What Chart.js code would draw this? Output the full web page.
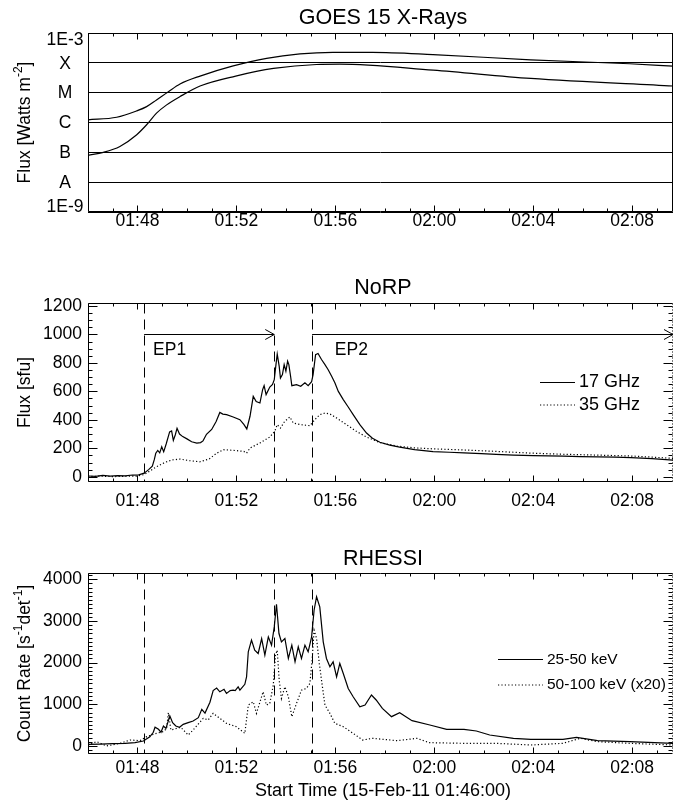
<!DOCTYPE html>
<html>
<head>
<meta charset="utf-8">
<script src="https://cdn.jsdelivr.net/npm/chart.js@4.4.1/dist/chart.umd.min.js"></script>
<style>
  html, body { margin: 0; padding: 0; background: #fff; }
  #wrap { position: relative; width: 675px; height: 806px; }
  canvas { position: absolute; left: 0; }
</style>
</head>
<body>
<div id="wrap">
  <canvas id="goes" width="675" height="260" style="top:0"></canvas>
  <canvas id="norp" width="675" height="270" style="top:260px"></canvas>
  <canvas id="rhessi" width="675" height="276" style="top:530px"></canvas>
</div>
<script>
// times are minutes after 01:46:00
const timeTicks = [2, 6, 10, 14, 18, 22];
const timeLabels = ['01:48', '01:52', '01:56', '02:00', '02:04', '02:08'];
const timeMax = 23.65;

// GOES 15
const goesTicks = [1e-9, 1e-8, 1e-7, 1e-6, 1e-5, 1e-4, 1e-3];
const goesLabels = ['1E-9', 'A', 'B', 'C', 'M', 'X', '1E-3'];
const goesLongT = [0, 1.16, 1.97, 2.37, 2.77, 3.25, 3.72, 4.53, 5.87, 7.22, 8.57, 9.9, 11.5, 13.95, 17.9, 21.9, 23.65];
const goesLong = [1.23e-6, 1.5e-6, 2.45e-6, 3.4e-6, 5.7e-6, 1.08e-5, 1.95e-5, 3.6e-5, 7.9e-5, 1.42e-4, 2.0e-4, 2.25e-4, 2.25e-4, 1.89e-4, 1.26e-4, 9.3e-5, 7.7e-5];
const goesShortT = [0, 0.62, 1.29, 1.97, 2.37, 2.77, 3.18, 3.72, 4.53, 5.97, 7.5, 9.24, 10.18, 13.95, 17.9, 23.65];
const goesShort = [7.9e-8, 1.0e-7, 1.58e-7, 3.9e-7, 8.4e-7, 2.06e-6, 3.9e-6, 7.4e-6, 1.67e-5, 3.6e-5, 6.5e-5, 8.8e-5, 9.0e-5, 5.7e-5, 3.0e-5, 1.67e-5];

// NoRP (sfu)
const norpTicks = [0, 200, 400, 600, 800, 1000, 1200];
const norp17T = [0, 0.3, 0.6, 0.9, 1.2, 1.5, 1.8, 2.05, 2.27, 2.45, 2.6, 2.68, 2.74, 2.82, 2.9, 2.98, 3.06, 3.16, 3.3, 3.38, 3.45, 3.53, 3.6, 3.7, 3.83, 4.0, 4.19, 4.4, 4.55, 4.65, 4.79, 5.0, 5.18, 5.33, 5.45, 5.6, 5.87, 6.14, 6.3, 6.42, 6.55, 6.68, 6.8, 6.95, 7.06, 7.12, 7.2, 7.35, 7.46, 7.53, 7.6, 7.65, 7.73, 7.78, 7.86, 7.93, 8.0, 8.07, 8.12, 8.19, 8.24, 8.43, 8.6, 8.77, 8.9, 9.04, 9.1, 9.2, 9.3, 9.44, 9.58, 9.71, 9.85, 9.98, 10.12, 10.32, 10.52, 10.72, 10.99, 11.26, 11.5, 11.8, 12.2, 12.6, 13.2, 13.95, 14.6, 15.2, 15.9, 16.5, 17.2, 18.0, 18.6, 19.2, 19.9, 20.6, 21.3, 21.95, 22.8, 23.65];
const norp17 = [5, 3, 9, 4, 8, 6, 12, 13, 25, 50, 75, 120, 165, 185, 168, 210, 175, 230, 315, 322, 255, 295, 340, 300, 282, 266, 246, 236, 240, 252, 298, 332, 388, 452, 440, 436, 420, 401, 368, 336, 425, 565, 528, 518, 612, 640, 577, 630, 648, 682, 790, 862, 776, 694, 718, 788, 742, 812, 788, 706, 640, 647, 636, 660, 640, 668, 718, 858, 866, 824, 788, 752, 706, 660, 600, 542, 490, 436, 366, 307, 270, 242, 222, 208, 190, 177, 172, 168, 162, 157, 152, 148, 147, 145, 142, 140, 138, 135, 127, 117];
const norp35T = [0, 0.5, 1.0, 1.5, 2.0, 2.27, 2.5, 2.77, 3.1, 3.4, 3.72, 4.1, 4.52, 4.9, 5.2, 5.47, 5.9, 6.3, 6.41, 6.55, 6.95, 7.35, 7.55, 7.65, 7.78, 7.95, 8.16, 8.3, 8.6, 8.97, 9.17, 9.37, 9.58, 9.78, 10.05, 10.45, 10.85, 11.26, 11.8, 12.5, 13.2, 13.95, 14.6, 15.2, 16.5, 17.9, 19.2, 20.6, 21.9, 22.8, 23.65];
const norp35 = [2, 4, 1, 3, 5, 15, 40, 70, 100, 118, 124, 113, 105, 125, 165, 190, 185, 178, 166, 202, 237, 279, 319, 366, 342, 389, 420, 377, 366, 359, 401, 436, 448, 441, 413, 366, 319, 279, 240, 215, 203, 196, 192, 188, 178, 166, 158, 152, 146, 138, 129];
const epochNames = ['EP1', 'EP2'];
const epochStart = [2.27, 9.06];
const epochEnd = [7.53, 23.65];
const epochTextT = [2.63, 9.98];
const eventTimes = [2.27, 7.53, 9.06];

// RHESSI (counts s^-1 det^-1)
const rhessiTicks = [0, 1000, 2000, 3000, 4000];
const hxr25T = [0, 0.5, 1.0, 1.5, 1.9, 2.24, 2.5, 2.64, 2.71, 2.85, 2.95, 3.05, 3.15, 3.31, 3.42, 3.55, 3.7, 3.85, 4.05, 4.25, 4.46, 4.6, 4.73, 4.93, 5.06, 5.2, 5.33, 5.5, 5.6, 5.75, 5.87, 5.95, 6.07, 6.14, 6.34, 6.41, 6.48, 6.61, 6.74, 6.88, 7.02, 7.15, 7.29, 7.42, 7.53, 7.62, 7.72, 7.82, 7.96, 8.1, 8.24, 8.37, 8.5, 8.63, 8.77, 8.9, 9.04, 9.14, 9.24, 9.37, 9.51, 9.64, 9.78, 9.91, 10.05, 10.18, 10.32, 10.52, 10.72, 10.99, 11.2, 11.46, 11.65, 11.9, 12.27, 12.6, 13.1, 13.82, 14.5, 15.2, 15.7, 16.24, 17.2, 17.9, 19.2, 19.75, 20.6, 21.9, 23.65];
const hxr25 = [40, 45, 55, 65, 80, 120, 220, 330, 450, 400, 330, 480, 420, 720, 560, 480, 450, 520, 560, 600, 680, 880, 790, 1050, 1330, 1390, 1300, 1360, 1261, 1330, 1341, 1330, 1421, 1341, 1480, 1660, 2260, 2539, 2300, 2220, 2579, 2180, 2619, 2419, 2858, 3400, 2699, 2499, 2579, 2100, 2419, 2020, 2379, 2100, 2419, 2260, 2619, 3258, 3580, 3337, 2499, 2100, 1900, 2020, 1660, 1980, 1740, 1380, 1181, 942, 984, 1224, 1104, 904, 704, 800, 608, 504, 400, 400, 360, 264, 184, 160, 160, 208, 128, 104, 64];
const hxr50T = [0, 0.35, 0.75, 1.3, 1.7, 2.1, 2.37, 2.77, 3.04, 3.18, 3.25, 3.35, 3.75, 4.05, 4.25, 4.66, 4.86, 5.06, 5.33, 5.6, 6.0, 6.34, 6.48, 6.68, 6.81, 7.08, 7.21, 7.35, 7.49, 7.58, 7.65, 7.73, 7.82, 7.96, 8.1, 8.24, 8.43, 8.63, 8.83, 8.97, 9.06, 9.14, 9.24, 9.35, 9.44, 9.58, 9.78, 9.98, 10.32, 10.72, 11.1, 11.5, 12.5, 13.3, 13.8, 15.2, 16.5, 17.9, 19.2, 19.9, 20.6, 21.9, 23.65];
const hxr50 = [24, 104, 0, 64, 144, 128, 224, 304, 344, 420, 800, 384, 448, 264, 384, 664, 624, 784, 663, 543, 463, 303, 982, 1062, 782, 1301, 982, 1022, 1460, 2180, 2300, 1580, 1141, 1421, 1181, 702, 1022, 1341, 1380, 1500, 2060, 2779, 2579, 1980, 1580, 982, 782, 543, 463, 303, 144, 184, 128, 184, 80, 64, 64, 24, 64, 184, 104, 64, 24];

(function() {
  const $ = (id) => document.getElementById(id);
  const FONT = '"Liberation Sans", Arial, Helvetica, sans-serif';
  Chart.defaults.font.family = FONT;
  Chart.defaults.color = '#000';

  const toPoints = (t, v) => t.map((x, i) => ({ x: x, y: v[i] }));

  function solid(t, v) {
    return { data: toPoints(t, v), borderColor: '#000', borderWidth: 1.2, pointRadius: 0, tension: 0 };
  }
  function dotted(t, v) {
    return { data: toPoints(t, v), borderColor: '#000', borderWidth: 1.2, borderDash: [1.2, 2.2], pointRadius: 0, tension: 0 };
  }

  function timeScale(labelPad, axisHeight) {
    return {
      type: 'linear', min: 0, max: timeMax,
      afterFit: (s) => { s.height = axisHeight; },
      afterBuildTicks: (s) => { s.ticks = timeTicks.map(v => ({ value: v })); },
      ticks: {
        padding: labelPad, autoSkip: false, maxRotation: 0,
        font: { size: 17.5, lineHeight: 1 },
        callback: (v) => timeLabels[timeTicks.indexOf(v)]
      },
      grid: { display: false, drawTicks: false },
      border: { display: false }
    };
  }

  function valueScale(min, max, ticks) {
    return {
      type: 'linear', min: min, max: max,
      afterFit: (s) => { s.width = 88; },
      afterBuildTicks: (s) => { s.ticks = ticks.map(v => ({ value: v })); },
      ticks: {
        padding: 6, autoSkip: false,
        font: { size: 17.5, lineHeight: 1 },
        callback: (v) => String(v)
      },
      grid: { display: false, drawTicks: false },
      border: { display: false }
    };
  }

  // rotated y title, parts flagged true are superscripts
  function drawYTitle(ctx, parts, x, y) {
    const big = `17.5px ${FONT}`, small = `12px ${FONT}`;
    let w = 0;
    parts.forEach(p => { ctx.font = p[1] ? small : big; w += ctx.measureText(p[0]).width; });
    ctx.save();
    ctx.translate(x, y);
    ctx.rotate(-Math.PI / 2);
    ctx.textAlign = 'left';
    ctx.textBaseline = 'middle';
    let cx = -w / 2;
    parts.forEach(p => {
      ctx.font = p[1] ? small : big;
      ctx.fillText(p[0], cx, p[1] ? -6 : 0);
      cx += ctx.measureText(p[0]).width;
    });
    ctx.restore();
  }

  const panelPlugin = {
    id: 'panel',
    afterDraw(chart, args, o) {
      const { ctx, chartArea: a } = chart;
      const xs = chart.scales.x, ys = chart.scales.y;
      const L = a.left + 0.5, R = a.right - 0.5, T = a.top + 0.5, B = a.bottom - 0.5;
      ctx.save();
      ctx.strokeStyle = '#000';
      ctx.fillStyle = '#000';
      ctx.lineWidth = 1;

      // frame (right edge dotted on the lower panels)
      ctx.beginPath();
      ctx.moveTo(R, T); ctx.lineTo(L, T); ctx.lineTo(L, B); ctx.lineTo(R, B);
      ctx.stroke();
      ctx.setLineDash(o.rightDotted ? [1, 2] : []);
      ctx.beginPath(); ctx.moveTo(R, T); ctx.lineTo(R, B); ctx.stroke();
      ctx.setLineDash([]);

      // minute ticks, top and bottom, pointing in
      ctx.beginPath();
      for (let m = 0; m <= timeMax; m++) {
        const x = Math.round(xs.getPixelForValue(m)) + 0.5;
        const len = timeTicks.includes(m) ? 6 : 3;
        ctx.moveTo(x, B); ctx.lineTo(x, B - len);
        ctx.moveTo(x, T); ctx.lineTo(x, T + len);
      }
      ctx.stroke();

      // value ticks on both sides
      if (o.yMinor) {
        ctx.beginPath();
        for (let v = Math.ceil(ys.min / o.yMinor) * o.yMinor; v <= ys.max; v += o.yMinor) {
          const y = Math.round(ys.getPixelForValue(v)) + 0.5;
          const len = v % o.yMajor === 0 ? 9 : 4;
          ctx.moveTo(L, y); ctx.lineTo(L + len, y);
          ctx.moveTo(R, y); ctx.lineTo(R - len, y);
        }
        ctx.stroke();
      }

      if (o.goesLabels) {
        ctx.font = `17.5px ${FONT}`;
        ctx.textAlign = 'center';
        ctx.textBaseline = 'middle';
        goesTicks.forEach((v, i) => {
          const y = Math.min(Math.max(ys.getPixelForValue(v), a.top + 6), a.bottom - 6);
          ctx.fillText(goesLabels[i], 65, y + 1);
        });
      }

      // event start lines
      if (o.events) {
        ctx.setLineDash([10, 6]);
        ctx.beginPath();
        eventTimes.forEach(t => {
          const x = Math.round(xs.getPixelForValue(t)) + 0.5;
          ctx.moveTo(x, T); ctx.lineTo(x, B);
        });
        ctx.stroke();
        ctx.setLineDash([]);
      }

      // EP1 / EP2 arrows
      if (o.epochs) {
        const y = Math.round(ys.getPixelForValue(o.epochLevel)) + 0.5;
        epochStart.forEach((t0, i) => {
          const x0 = xs.getPixelForValue(t0), x1 = xs.getPixelForValue(epochEnd[i]);
          ctx.beginPath();
          ctx.moveTo(x0, y); ctx.lineTo(x1, y);
          ctx.moveTo(x1 - 9, y - 5); ctx.lineTo(x1, y); ctx.lineTo(x1 - 9, y + 5);
          ctx.stroke();
        });
        ctx.font = `17.5px ${FONT}`;
        ctx.textAlign = 'left';
        ctx.textBaseline = 'middle';
        epochNames.forEach((name, i) => {
          ctx.fillText(name, xs.getPixelForValue(epochTextT[i]), ys.getPixelForValue(o.epochTextLevel));
        });
      }

      // legend
      if (o.legend) {
        ctx.font = `${o.legendSize}px ${FONT}`;
        ctx.textAlign = 'left';
        ctx.textBaseline = 'middle';
        o.legend.forEach(item => {
          ctx.setLineDash(item.dotted ? [1.2, 2.2] : []);
          ctx.lineWidth = 1.2;
          ctx.beginPath();
          ctx.moveTo(item.x0, item.y); ctx.lineTo(item.x1, item.y);
          ctx.stroke();
          ctx.setLineDash([]);
          ctx.fillText(item.label, item.x1 + 4, item.y);
        });
      }

      // panel title
      ctx.font = `21.5px ${FONT}`;
      ctx.textAlign = 'center';
      ctx.textBaseline = 'alphabetic';
      ctx.fillText(o.title, 383, o.titleY);

      if (o.xTitle) {
        ctx.font = `18px ${FONT}`;
        ctx.fillText(o.xTitle, 383, o.xTitleY);
      }

      drawYTitle(ctx, o.yTitle, 25, (a.top + a.bottom) / 2);
      ctx.restore();
    }
  };

  const base = {
    responsive: false,
    animation: false,
    devicePixelRatio: 1,
    events: []
  };

  new Chart($('goes'), {
    type: 'line',
    data: {
      datasets: [
        Object.assign(solid(goesLongT, goesLong), { cubicInterpolationMode: 'monotone' }),
        Object.assign(solid(goesShortT, goesShort), { cubicInterpolationMode: 'monotone' })
      ]
    },
    options: Object.assign({}, base, {
      layout: { padding: { top: 33, right: 2, left: 0, bottom: 0 } },
      plugins: {
        legend: { display: false },
        tooltip: { enabled: false },
        panel: {
          title: 'GOES 15 X-Rays', titleY: 24,
          goesLabels: true,
          yTitle: [['Flux [Watts m', false], ['-2', true], [']', false]]
        }
      },
      scales: {
        x: timeScale(0, 48),
        y: {
          type: 'logarithmic', min: 1e-9, max: 1e-3,
          afterFit: (s) => { s.width = 88; },
          afterBuildTicks: (s) => { s.ticks = goesTicks.map(v => ({ value: v })); },
          ticks: { display: false },
          grid: { color: '#000', lineWidth: 1, drawTicks: false },
          border: { display: false }
        }
      }
    }),
    plugins: [panelPlugin]
  });

  new Chart($('norp'), {
    type: 'line',
    data: { datasets: [solid(norp17T, norp17), dotted(norp35T, norp35)] },
    options: Object.assign({}, base, {
      layout: { padding: { top: 43, right: 2, left: 0, bottom: 0 } },
      plugins: {
        legend: { display: false },
        tooltip: { enabled: false },
        panel: {
          title: 'NoRP', titleY: 34,
          rightDotted: true, yMinor: 50, yMajor: 200,
          events: true,
          epochs: true, epochLevel: 1000, epochTextLevel: 890,
          legendSize: 18,
          legend: [
            { label: '17 GHz', x0: 540, x1: 575, y: 122.5, dotted: false },
            { label: '35 GHz', x0: 540, x1: 575, y: 145, dotted: true }
          ],
          yTitle: [['Flux [sfu]', false]]
        }
      },
      scales: {
        x: timeScale(10, 48),
        y: valueScale(-37, 1221, norpTicks)
      }
    }),
    plugins: [panelPlugin]
  });

  new Chart($('rhessi'), {
    type: 'line',
    data: { datasets: [solid(hxr25T, hxr25), dotted(hxr50T, hxr50)] },
    options: Object.assign({}, base, {
      layout: { padding: { top: 43, right: 2, left: 0, bottom: 0 } },
      plugins: {
        legend: { display: false },
        tooltip: { enabled: false },
        panel: {
          title: 'RHESSI', titleY: 35,
          rightDotted: true, yMinor: 100, yMajor: 1000,
          events: true,
          legendSize: 15.5,
          legend: [
            { label: '25-50 keV', x0: 498, x1: 543, y: 129.5, dotted: false },
            { label: '50-100 keV (x20)', x0: 498, x1: 543, y: 155, dotted: true }
          ],
          xTitle: 'Start Time (15-Feb-11 01:46:00)', xTitleY: 266,
          yTitle: [['Count Rate [s', false], ['-1', true], ['det', false], ['-1', true], [']', false]]
        }
      },
      scales: {
        x: timeScale(5, 52),
        y: valueScale(-192, 4151, rhessiTicks)
      }
    }),
    plugins: [panelPlugin]
  });
})();
</script>
</body>
</html>
